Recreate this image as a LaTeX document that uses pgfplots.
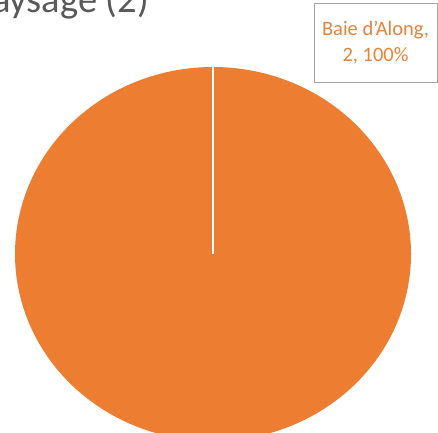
\documentclass[border=0pt]{standalone}
\usepackage{pgfplots}
\pgfplotsset{compat=1.18}
\usepackage{pgfplotstable}
\usepackage{fontspec}
\setmainfont{Carlito}
\definecolor{pieorange}{HTML}{ED7D31}
\definecolor{labelorange}{HTML}{E8833A}
\definecolor{titlegray}{HTML}{595959}
\definecolor{boxgray}{HTML}{A6A6A6}
\pgfkeys{/pgf/number format/assume math mode=true}
\pgfplotstableread{
value total
2 2
}\piedata
\pgfplotstablegetelem{0}{value}\of\piedata \let\slicevalue\pgfplotsretval
\pgfplotstablegetelem{0}{total}\of\piedata \let\slicetotal\pgfplotsretval
\pgfmathsetmacro{\sliceend}{90-360*\slicevalue/\slicetotal}
\pgfmathsetmacro{\slicepct}{100*\slicevalue/\slicetotal}
\begin{document}
\begin{tikzpicture}[x=1pt,y=1pt]
\useasboundingbox (0,0) rectangle (438,432);
\clip (0,0) rectangle (438,432);
\fill[white] (0,0) rectangle (438,432);
\begin{axis}[
  at={(213pt,178pt)}, anchor=center,
  scale only axis, width=396pt, height=374pt,
  xmin=-1, xmax=1, ymin=-1, ymax=1,
  hide axis, clip=false]
\addplot[draw=none, fill=pieorange, domain=90:\sliceend, samples=361] ({cos(x)},{sin(x)}) -- (axis cs:0,0) -- cycle;
\addplot[white, line width=2pt] coordinates {(0,0) (0,1)};
\end{axis}
\node[anchor=base east, text=titlegray, inner sep=0pt] at (149,419) {\fontsize{38.5}{42}\selectfont Paysage (2)};
\node[draw=boxgray, line width=0.8pt, fill=white, minimum width=123pt, minimum height=79pt, align=center, text=labelorange, font=\fontsize{20.5}{26}\selectfont] at (375.5,389.5) {Baie d’Along,\\ \pgfmathprintnumber{\slicevalue}, \pgfmathprintnumber[fixed,precision=0]{\slicepct}\%};
\end{tikzpicture}
\end{document}
